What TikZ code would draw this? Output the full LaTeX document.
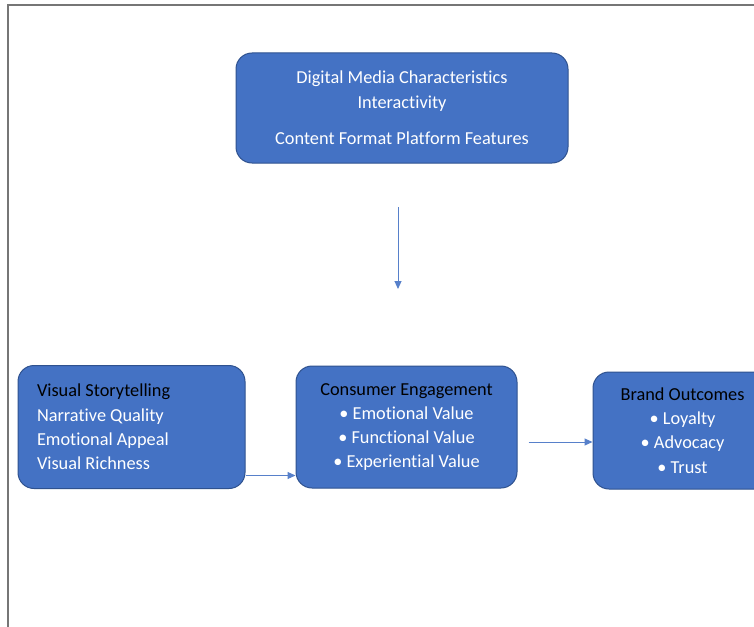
\documentclass[tikz,border=0pt]{standalone}
\usepackage{fontspec}
\setmainfont{Carlito}[Ligatures=NoCommon]
\usetikzlibrary{arrows.meta}
\definecolor{boxfill}{HTML}{4472C4}
\definecolor{boxline}{HTML}{2F528F}
\definecolor{framegray}{HTML}{767676}
\tikzset{
  card/.style={draw=boxline, line width=1pt, fill=boxfill, rounded corners=16pt,
    inner sep=0pt, font=\fontsize{18.3}{24.3}\selectfont, text=white},
  arr/.style={draw=boxfill!90!white, line width=1pt, -{Triangle[length=8pt,width=7pt]}},
}
\begin{document}
\begin{tikzpicture}[x=1pt,y=-1pt]
\useasboundingbox (0,0) rectangle (754,626);
\clip (0,0) rectangle (754,626);
\fill[white] (0,0) rectangle (754,626);
\draw[framegray, line width=1.5pt] (8,630) -- (8,5) -- (760,5);

\node[card, minimum width=332pt, minimum height=110pt, align=center] (top) at (402,108)
  {Digital Media Characteristics\\ Interactivity\\[12pt] Content Format Platform Features};

\node[card, minimum width=227pt, minimum height=123pt, text width=189pt, align=flush left] (left) at (131.5,427)
  {\textcolor{black}{Visual Storytelling}\\ Narrative Quality\\ Emotional Appeal\\ Visual Richness};

\node[card, minimum width=221pt, minimum height=122pt, align=center] (mid) at (406.5,427)
  {\textcolor{black}{Consumer Engagement}\\ • Emotional Value\\ • Functional Value\\ • Experiential Value};

\node[card, minimum width=179pt, minimum height=117pt, align=center] (right) at (682.5,430.5)
  {\textcolor{black}{Brand Outcomes}\\ • Loyalty\\ • Advocacy\\ • Trust};

\coordinate (v1) at (398,207);
\coordinate (v2) at (398,289);
\draw[arr] (v1) -- (v2);

\draw[arr] ([yshift=-48.5pt]left.east) -- ([yshift=-48.5pt]mid.west);
\draw[arr] ([xshift=11pt,yshift=-15pt]mid.east) -- ([yshift=-11.5pt]right.west);
\end{tikzpicture}
\end{document}
